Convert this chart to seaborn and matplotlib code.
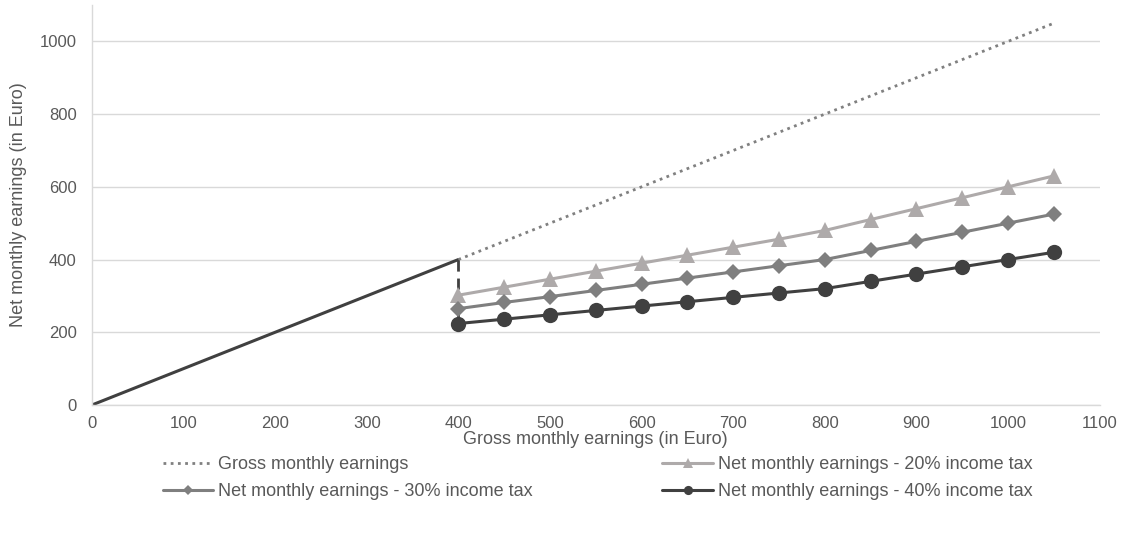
import matplotlib
matplotlib.use("Agg")
import matplotlib.pyplot as plt
import seaborn as sns
import pandas as pd

# data
gross_low_x = [0, 400]
gross_low_y = [0, 400]
gross_x = [400, 1050]
gross_y = [400, 1050]
drop_x = [400, 400]
drop_y = [400, 224]

net_x = [400, 450, 500, 550, 600, 650, 700, 750, 800, 850, 900, 950, 1000, 1050]
net_20 = [302, 324, 346, 368, 390, 412, 434, 456, 480, 510, 540, 570, 600, 630]
net_30 = [265, 282, 298, 315, 332, 349, 366, 383, 400, 425, 450, 475, 500, 525]
net_40 = [224, 236, 248, 260, 272, 284, 296, 308, 320, 340, 360, 380, 400, 420]

TEXT = "#595959"
sns.set_style("white")
plt.rcParams["font.family"] = ["Liberation Sans", "DejaVu Sans"]

fig = plt.figure(figsize=(11.21, 5.34), dpi=100)
ax = fig.add_axes([0.082, 0.2416, 0.899, 0.749])

# gross earnings: solid dark up to 400, dotted after
sns.lineplot(x=gross_low_x, y=gross_low_y, ax=ax, color="#404040", lw=2.2,
             estimator=None, sort=False)
sns.lineplot(x=gross_x, y=gross_y, ax=ax, color="#808080", lw=2, linestyle=(0, (1, 1.6)),
             estimator=None, sort=False, label="Gross monthly earnings")
sns.lineplot(x=drop_x, y=drop_y, ax=ax, color="#404040", lw=2, linestyle=(0, (4, 2.5)),
             estimator=None, sort=False)

df = pd.DataFrame({"x": net_x, "n20": net_20, "n30": net_30, "n40": net_40})
sns.lineplot(data=df, x="x", y="n20", ax=ax, color="#AEAAAA", lw=2.2, marker="^",
             markersize=11, markeredgewidth=0, label="Net monthly earnings - 20% income tax")
sns.lineplot(data=df, x="x", y="n30", ax=ax, color="#7F7F7F", lw=2.2, marker="D",
             markersize=8.5, markeredgewidth=0, label="Net monthly earnings - 30% income tax")
sns.lineplot(data=df, x="x", y="n40", ax=ax, color="#404040", lw=2.2, marker="o",
             markersize=11, markeredgewidth=0, label="Net monthly earnings - 40% income tax")

ax.set_xlim(0, 1100)
ax.set_ylim(0, 1100)
ax.set_xticks(range(0, 1101, 100))
ax.set_yticks(range(0, 1001, 200))
ax.yaxis.grid(True, color="#D9D9D9", lw=1)
ax.set_axisbelow(True)
for s in ["top", "right"]:
    ax.spines[s].set_visible(False)
for s in ["left", "bottom"]:
    ax.spines[s].set_color("#D9D9D9")
    ax.spines[s].set_linewidth(1)
ax.tick_params(colors=TEXT, labelsize=12, length=0)
ax.tick_params(axis="x", pad=8)
ax.tick_params(axis="y", pad=11)
ax.set_xlabel("Gross monthly earnings (in Euro)", color=TEXT, fontsize=13, labelpad=0)
ax.set_ylabel("Net monthly earnings (in Euro)", color=TEXT, fontsize=13, labelpad=9)

handles, labels = ax.get_legend_handles_labels()
ax.get_legend().remove()
# row-wise order: gross | 20% ; 30% | 40%
order = [0, 2, 1, 3]
leg = fig.legend([handles[i] for i in order], [labels[i] for i in order],
                 loc="upper center", bbox_to_anchor=(0.533, 0.176), ncol=2,
                 frameon=False, fontsize=13, columnspacing=7.2, handlelength=2.8,
                 handletextpad=0.25, labelspacing=0.55, markerscale=0.6)
for t in leg.get_texts():
    t.set_color(TEXT)

fig.savefig("out.png", dpi=100)
